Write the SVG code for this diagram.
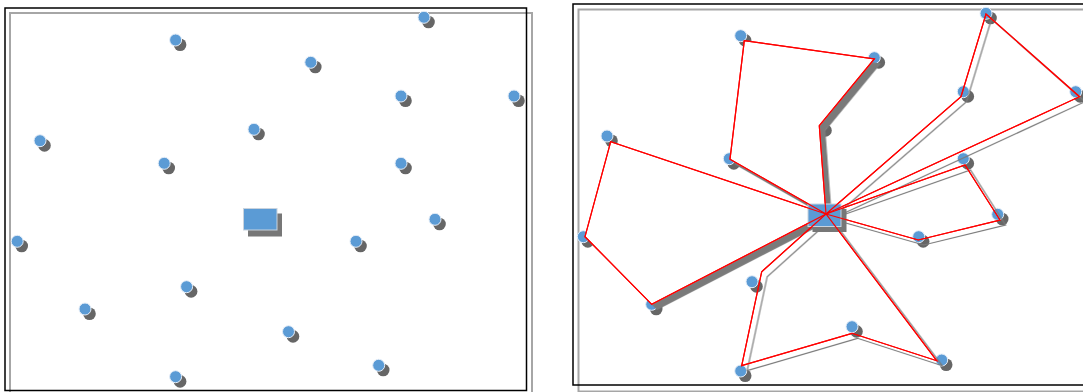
<svg xmlns="http://www.w3.org/2000/svg" width="1083" height="392" viewBox="0 0 1083 392">
  <style>
    .node .bg { fill: #666666; filter: url(#soft); }
    .node .fg { fill: #5b9bd5; stroke: #e4edf8; stroke-width: 1; }
    .depot .bg { fill: #777777; filter: url(#soft); }
    .depot .fg { fill: #5b9bd5; stroke: #c9d3de; stroke-width: 1; }
    .base { stroke: #ff0000; stroke-width: 1.2; stroke-linejoin: miter; filter: url(#routeShadow); }
    .line { fill: none; stroke: #ff0000; stroke-width: 1.2; stroke-linejoin: miter; }
    .filled { fill: #ffffff; }
    .open { fill: none; }
    .frame-black { fill: none; stroke: #000000; stroke-width: 1.5; }
    .frame-gray { fill: none; stroke: #a6a6a6; stroke-width: 2; }
  </style>
  <defs>
    <filter id="soft" x="-50%" y="-50%" width="200%" height="200%">
      <feGaussianBlur stdDeviation="0.7"/>
    </filter>
    <filter id="routeShadow" x="-10%" y="-10%" width="120%" height="120%">
      <feDropShadow dx="5.5" dy="5" stdDeviation="0.6" flood-color="#7a7a7a" flood-opacity="1"/>
    </filter>
  </defs>
  <rect width="1083" height="392" fill="#ffffff"/>

  <!-- frames -->
  <g id="frames">
    <rect class="frame-gray" x="10" y="13" width="522" height="392"/>
    <rect class="frame-black" x="5" y="8" width="521.5" height="382.5"/>
    <rect class="frame-gray" x="578.5" y="9.5" width="520" height="382"/>
    <rect class="frame-black" x="573" y="4" width="530" height="381"/>
  </g>

  <!-- left panel -->
  <g id="left-panel">
    <g id="L-depot" class="depot"><rect class="bg" x="248" y="213.5" width="34" height="23"/><rect class="fg" x="243.5" y="208.5" width="33.5" height="21.5"/></g>
    <g id="L1" class="node"><circle class="bg" cx="180.1" cy="44.7" r="6.3"/><circle class="fg" cx="175.6" cy="40" r="6"/></g>
    <g id="L2" class="node"><circle class="bg" cx="428.5" cy="22" r="6.3"/><circle class="fg" cx="424" cy="17.3" r="6"/></g>
    <g id="L3" class="node"><circle class="bg" cx="315.3" cy="67" r="6.3"/><circle class="fg" cx="310.8" cy="62.3" r="6"/></g>
    <g id="L4" class="node"><circle class="bg" cx="405.5" cy="100.7" r="6.3"/><circle class="fg" cx="401" cy="96" r="6"/></g>
    <g id="L5" class="node"><circle class="bg" cx="518.5" cy="100.7" r="6.3"/><circle class="fg" cx="514" cy="96" r="6"/></g>
    <g id="L6" class="node"><circle class="bg" cx="44.5" cy="145.4" r="6.3"/><circle class="fg" cx="40" cy="140.7" r="6"/></g>
    <g id="L7" class="node"><circle class="bg" cx="258.5" cy="134" r="6.3"/><circle class="fg" cx="254" cy="129.3" r="6"/></g>
    <g id="L8" class="node"><circle class="bg" cx="168.7" cy="168" r="6.3"/><circle class="fg" cx="164.2" cy="163.3" r="6"/></g>
    <g id="L9" class="node"><circle class="bg" cx="405.5" cy="168" r="6.3"/><circle class="fg" cx="401" cy="163.3" r="6"/></g>
    <g id="L10" class="node"><circle class="bg" cx="439.5" cy="224" r="6.3"/><circle class="fg" cx="435" cy="219.3" r="6"/></g>
    <g id="L11" class="node"><circle class="bg" cx="21.7" cy="246" r="6.3"/><circle class="fg" cx="17.2" cy="241.3" r="6"/></g>
    <g id="L12" class="node"><circle class="bg" cx="360.5" cy="246" r="6.3"/><circle class="fg" cx="356" cy="241.3" r="6"/></g>
    <g id="L13" class="node"><circle class="bg" cx="191.1" cy="291.4" r="6.3"/><circle class="fg" cx="186.6" cy="286.7" r="6"/></g>
    <g id="L14" class="node"><circle class="bg" cx="89.5" cy="313.7" r="6.3"/><circle class="fg" cx="85" cy="309" r="6"/></g>
    <g id="L15" class="node"><circle class="bg" cx="293" cy="336.4" r="6.3"/><circle class="fg" cx="288.5" cy="331.7" r="6"/></g>
    <g id="L16" class="node"><circle class="bg" cx="383.2" cy="370" r="6.3"/><circle class="fg" cx="378.7" cy="365.3" r="6"/></g>
    <g id="L17" class="node"><circle class="bg" cx="180.1" cy="381.4" r="6.3"/><circle class="fg" cx="175.6" cy="376.7" r="6"/></g>
  </g>

  <!-- right panel nodes -->
  <g id="right-panel">
    <g id="Ra" class="node"><circle class="bg" cx="745.2" cy="40.4" r="6.3"/><circle class="fg" cx="740.7" cy="35.7" r="6"/></g>
    <g id="Rb" class="node"><circle class="bg" cx="878.8" cy="62.4" r="6.3"/><circle class="fg" cx="874.3" cy="57.7" r="6"/></g>
    <g id="Rc" class="node"><circle class="bg" cx="990.5" cy="18" r="6.3"/><circle class="fg" cx="986" cy="13.3" r="6"/></g>
    <g id="Rd" class="node"><circle class="bg" cx="967.8" cy="96.4" r="6.3"/><circle class="fg" cx="963.3" cy="91.7" r="6"/></g>
    <g id="Re" class="node"><circle class="bg" cx="1080.2" cy="96.4" r="6.3"/><circle class="fg" cx="1075.7" cy="91.7" r="6"/></g>
    <g id="Rf" class="node"><circle class="bg" cx="825.5" cy="130.4" r="6.3"/><circle class="fg" cx="821" cy="125.7" r="6"/></g>
    <g id="Rg" class="node"><circle class="bg" cx="611.5" cy="140.7" r="6.3"/><circle class="fg" cx="607" cy="136" r="6"/></g>
    <g id="Rh" class="node"><circle class="bg" cx="733.8" cy="163.4" r="6.3"/><circle class="fg" cx="729.3" cy="158.7" r="6"/></g>
    <g id="Ri" class="node"><circle class="bg" cx="967.8" cy="163.4" r="6.3"/><circle class="fg" cx="963.3" cy="158.7" r="6"/></g>
    <g id="Rj" class="node"><circle class="bg" cx="1002.2" cy="219" r="6.3"/><circle class="fg" cx="997.7" cy="214.3" r="6"/></g>
    <g id="Rk" class="node"><circle class="bg" cx="587.8" cy="241.4" r="6.3"/><circle class="fg" cx="583.3" cy="236.7" r="6"/></g>
    <g id="Rl" class="node"><circle class="bg" cx="923.2" cy="241.4" r="6.3"/><circle class="fg" cx="918.7" cy="236.7" r="6"/></g>
    <g id="Rm" class="node"><circle class="bg" cx="756.5" cy="286.4" r="6.3"/><circle class="fg" cx="752" cy="281.7" r="6"/></g>
    <g id="Rn" class="node"><circle class="bg" cx="656.2" cy="309" r="6.3"/><circle class="fg" cx="651.7" cy="304.3" r="6"/></g>
    <g id="Ro" class="node"><circle class="bg" cx="856.5" cy="331.4" r="6.3"/><circle class="fg" cx="852" cy="326.7" r="6"/></g>
    <g id="Rp" class="node"><circle class="bg" cx="946.2" cy="364.7" r="6.3"/><circle class="fg" cx="941.7" cy="360" r="6"/></g>
    <g id="Rq" class="node"><circle class="bg" cx="745.2" cy="375.7" r="6.3"/><circle class="fg" cx="740.7" cy="371" r="6"/></g>
  </g>

  <!-- connectors (routes): fills with shadows, then depot, then red route lines -->
  <g id="connectors">
    <g id="route-bases">
      <polygon class="base filled" points="826,214 819.3,125.7 874.3,59 744.3,40.7 730,159.3"/>
      <polygon class="base filled" points="826,214 610.7,141.7 585,236.7 651.7,304.3"/>
      <polygon class="base open" points="826,214 961,96.7 986,14 1079.5,96.7"/>
      <polygon class="base open" points="826,214 965,165 1000,220 918.3,240"/>
      <polygon class="base open" points="826,214 761.7,271.7 741.7,365.7 852,333.3 936.7,360.7"/>
    </g>
  </g>
  <g id="R-depot" class="depot"><rect class="bg" x="812.5" y="209" width="34" height="23"/><rect class="fg" x="808" y="204" width="33" height="22.5"/></g>
  <g id="connector-lines">
    <polygon id="route1" class="line" points="826,214 819.3,125.7 874.3,59 744.3,40.7 730,159.3"/>
    <polygon id="route2" class="line" points="826,214 610.7,141.7 585,236.7 651.7,304.3"/>
    <polygon id="route3" class="line" points="826,214 961,96.7 986,14 1079.5,96.7"/>
    <polygon id="route4" class="line" points="826,214 965,165 1000,220 918.3,240"/>
    <polygon id="route5" class="line" points="826,214 761.7,271.7 741.7,365.7 852,333.3 936.7,360.7"/>
  </g>
</svg>
